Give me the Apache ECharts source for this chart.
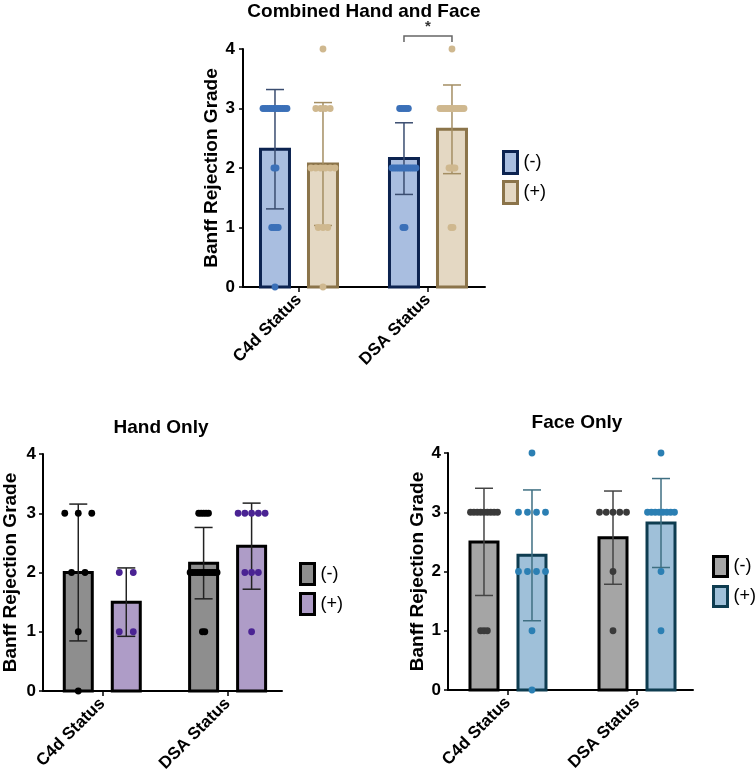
<!DOCTYPE html>
<html>
<head>
<meta charset="utf-8">
<script src="https://cdn.jsdelivr.net/npm/echarts@6/dist/echarts.min.js"></script>
<style>html,body{margin:0;padding:0;background:#fff}#c{width:755px;height:779px}</style>
</head>
<body>
<div id="c"></div>
<script>
// ---------- DATA ----------
const categories = ['C4d Status', 'DSA Status'];
const yTicks = [0, 1, 2, 3, 4];
const legendNames = ['(-)', '(+)'];
const titles = ['Combined Hand and Face', 'Hand Only', 'Face Only'];
const yAxisTitle = 'Banff Rejection Grade';

// individual grades per group (C4d Status, DSA Status)
const combC4dNeg = [3,3,3,3,3,3,3,3,3,3,3,3,2,2,1,1,1,1,0];
const combC4dPos = [4,3,3,3,3,2,2,2,2,2,2,1,1,1,0];
const combDsaNeg = [3,3,3,3,3,2,2,2,2,2,2,2,2,2,2,2,2,1,1];
const combDsaPos = [4,3,3,3,3,3,3,3,3,3,3,3,3,3,2,2,2,2,1,1];

const handC4dNeg = [3,3,3,2,2,1,0];
const handC4dPos = [2,2,1,1];
const handDsaNeg = [3,3,3,3,3,2,2,2,2,2,2,2,2,2,2,2,2,1,1];
const handDsaPos = [3,3,3,3,3,2,2,2,1];

const faceC4dNeg = [3,3,3,3,3,3,3,3,3,1,1,1];
const faceC4dPos = [4,3,3,3,3,2,2,2,2,1,0];
const faceDsaNeg = [3,3,3,3,3,2,1];
const faceDsaPos = [4,3,3,3,3,3,3,3,3,2,1];

// significance brackets (grid index, category index, label)
const sigMarks = [[0, 1, '*']];

// ---------- HELPERS ----------
function meanSd(arr) {
  const n = arr.length;
  const m = arr.reduce((a, b) => a + b, 0) / n;
  const v = arr.reduce((a, b) => a + (b - m) * (b - m), 0) / (n - 1);
  return [m, Math.sqrt(v)];
}
function dotLayout(arr, catIdx, span, cap) {
  const counts = {};
  arr.forEach(v => counts[v] = (counts[v] || 0) + 1);
  const maxRow = Math.max(...Object.values(counts));
  const sp = maxRow > 1 ? Math.min(cap, span / (maxRow - 1)) : 0;
  const out = [];
  Object.keys(counts).forEach(k => {
    const c = counts[k];
    for (let i = 0; i < c; i++) out.push([catIdx, +k, (i - (c - 1) / 2) * sp]);
  });
  return out;
}

const FONT = "'Liberation Sans', Arial, Helvetica, sans-serif";

const panels = [
  { groups: [[combC4dNeg, combDsaNeg], [combC4dPos, combDsaPos]],
    grid: { left: 243, top: 49, width: 242, height: 238 }, xmin: -0.434, xmax: 1.442,
    barW: 32, span: 24, nameGap: 20, labelMargin: 8,
    colors: [
      { fill: '#a9bee0', stroke: '#0c2350', err: '#3a4d70', dot: '#3b70b8' },
      { fill: '#e4d8c3', stroke: '#8b744a', err: '#a48e63', dot: '#cfb88f' }
    ],
    legend: { left: 502, top: 150, h: 22, gap: 5 } },
  { groups: [[handC4dNeg, handDsaNeg], [handC4dPos, handDsaPos]],
    grid: { left: 36, top: 454, width: 246, height: 237 }, xmin: -0.473, xmax: 1.434,
    barW: 31, span: 27, nameGap: 23, labelMargin: 7,
    colors: [
      { fill: '#8e8e8e', stroke: '#000000', err: '#222222', dot: '#000000' },
      { fill: '#ae9cc7', stroke: '#000000', err: '#222222', dot: '#4a2393' }
    ],
    legend: { left: 299, top: 562, h: 21, gap: 6 } },
  { groups: [[faceC4dNeg, faceDsaNeg], [faceC4dPos, faceDsaPos]],
    grid: { left: 448, top: 453, width: 245, height: 237 }, xmin: -0.465, xmax: 1.434,
    barW: 31, span: 27, nameGap: 16, labelMargin: 7,
    colors: [
      { fill: '#a5a5a5', stroke: '#000000', err: '#444444', dot: '#3a3a3a' },
      { fill: '#9fc0d9', stroke: '#0e3c50', err: '#3f6f82', dot: '#2b7fb3' }
    ],
    legend: { left: 712, top: 555, h: 20, gap: 7 } }
];

const grid = [], xAxis = [], yAxis = [], series = [], legend = [];
const title = [
  { text: titles[0], left: 364, top: 2, textAlign: 'center', padding: 0, textStyle: { fontFamily: FONT, fontSize: 19, fontWeight: 'bold', color: '#000' } },
  { text: titles[1], left: 161, top: 418, textAlign: 'center', padding: 0, textStyle: { fontFamily: FONT, fontSize: 19, fontWeight: 'bold', color: '#000' } },
  { text: titles[2], left: 577, top: 413, textAlign: 'center', padding: 0, textStyle: { fontFamily: FONT, fontSize: 19, fontWeight: 'bold', color: '#000' } }
];

panels.forEach((p, gi) => {
  grid.push(p.grid);
  xAxis.push({
    type: 'value', gridIndex: gi, min: p.xmin, max: p.xmax,
    splitLine: { show: false },
    axisLine: { show: true, onZero: false, lineStyle: { color: '#000', width: 2 } },
    axisTick: { show: true, customValues: [0, 1], length: 5, lineStyle: { color: '#000', width: 1.5 } },
    axisLabel: {
      customValues: [0, 1], rotate: 45, margin: 10,
      formatter: v => categories[Math.round(v)] || '',
      fontFamily: FONT, fontSize: 17, fontWeight: 'bold', color: '#000'
    }
  });
  yAxis.push({
    type: 'value', gridIndex: gi, min: 0, max: 4, interval: 1,
    splitLine: { show: false },
    axisLine: { show: true, onZero: false, lineStyle: { color: '#000', width: 2 } },
    axisTick: { show: true, length: 4, lineStyle: { color: '#000', width: 1.5 } },
    axisLabel: { margin: p.labelMargin, fontFamily: FONT, fontSize: 17, fontWeight: 'bold', color: '#000',
      formatter: v => (yTicks.indexOf(v) >= 0 ? String(v) : '') },
    name: yAxisTitle, nameLocation: 'middle', nameRotate: 90, nameGap: p.nameGap,
    nameTextStyle: { fontFamily: FONT, fontSize: 19, fontWeight: 'bold', color: '#000' }
  });

  p.groups.forEach((grp, si) => {
    const side = si === 0 ? -1 : 1;
    const col = p.colors[si];
    const stats = grp.map((arr, ci) => { const ms = meanSd(arr); return [ci, ms[0], ms[1]]; });
    series.push({
      type: 'custom', name: legendNames[si], xAxisIndex: gi, yAxisIndex: gi,
      itemStyle: { color: col.fill, borderColor: col.stroke, borderWidth: 3 },
      data: stats, clip: false, z: 2,
      renderItem: (params, api) => {
        const c = api.value(0), m = api.value(1), sd = api.value(2);
        const base = api.coord([c, 0]);
        const cx = base[0] + side * 24;
        const y0 = base[1];
        const ym = api.coord([c, m])[1];
        const yHi = api.coord([c, m + sd])[1];
        const yLo = api.coord([c, Math.max(0, m - sd)])[1];
        const bw = p.barW, lw = 3, cw = 9;
        return { type: 'group', children: [
          { type: 'rect', shape: { x: cx - bw / 2 + lw / 2, y: ym, width: bw - lw, height: y0 - ym },
            style: { fill: col.fill, stroke: col.stroke, lineWidth: lw } },
          { type: 'line', shape: { x1: cx, y1: yHi, x2: cx, y2: yLo }, style: { stroke: col.err, lineWidth: 1.5 } },
          { type: 'line', shape: { x1: cx - cw, y1: yHi, x2: cx + cw, y2: yHi }, style: { stroke: col.err, lineWidth: 1.5 } },
          { type: 'line', shape: { x1: cx - cw, y1: yLo, x2: cx + cw, y2: yLo }, style: { stroke: col.err, lineWidth: 1.5 } }
        ] };
      }
    });
  });
  p.groups.forEach((grp, si) => {
    const side = si === 0 ? -1 : 1;
    const col = p.colors[si];
    let dots = [];
    grp.forEach((arr, ci) => { dots = dots.concat(dotLayout(arr, ci, p.span, 14)); });
    series.push({
      type: 'custom', xAxisIndex: gi, yAxisIndex: gi, data: dots, clip: false, z: 3,
      renderItem: (params, api) => {
        const pt = api.coord([api.value(0), api.value(1)]);
        return { type: 'circle', shape: { cx: pt[0] + side * 24 + api.value(2), cy: pt[1], r: 3.4 },
          style: { fill: col.dot } };
      }
    });
  });

  legend.push({
    orient: 'vertical', left: p.legend.left, top: p.legend.top, padding: 0,
    itemWidth: 14, itemHeight: p.legend.h, itemGap: p.legend.gap, icon: 'rect', selectedMode: false,
    textStyle: { fontFamily: FONT, fontSize: 18, color: '#000', padding: [0, 0, 0, 1] },
    data: legendNames.map((n, si) => ({ name: n, itemStyle: { color: p.colors[si].fill, borderColor: p.colors[si].stroke, borderWidth: 3 } }))
  });
});

// significance bracket
series.push({
  type: 'custom', xAxisIndex: 0, yAxisIndex: 0, data: sigMarks.map(s => [s[1], 4]), clip: false, z: 4,
  renderItem: (params, api) => {
    const pt = api.coord([api.value(0), api.value(1)]);
    const y = pt[1] - 13, x1 = pt[0] - 24, x2 = pt[0] + 24;
    return { type: 'group', children: [
      { type: 'polyline', shape: { points: [[x1, y + 6], [x1, y], [x2, y], [x2, y + 6]] }, style: { stroke: '#666', lineWidth: 1.5, fill: null } },
      { type: 'text', style: { text: sigMarks[params.dataIndex][2], x: pt[0], y: y - 2, textAlign: 'center', textVerticalAlign: 'bottom', fontFamily: FONT, fontSize: 15, fontWeight: 'bold', fill: '#333' } }
    ] };
  }
});

const chart = echarts.init(document.getElementById('c'), null, { renderer: 'canvas' });
chart.setOption({ animation: false, backgroundColor: '#fff', title, grid, xAxis, yAxis, legend, series });
</script>
</body>
</html>
